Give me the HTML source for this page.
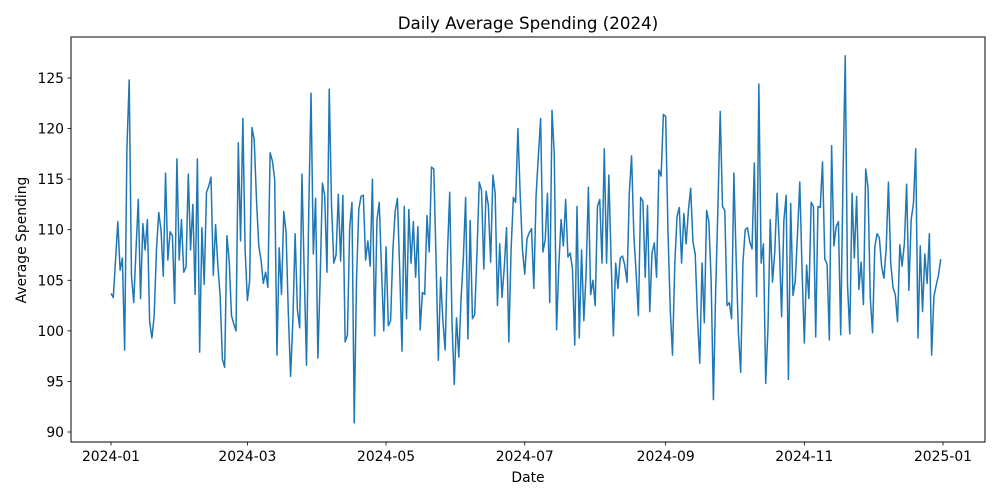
<!DOCTYPE html>
<html><head><meta charset="utf-8"><style>
html,body{margin:0;padding:0;background:#fff;}
svg{display:block;font-family:"DejaVu Sans","Liberation Sans",sans-serif;}
</style></head><body>
<svg id="chart" width="1000" height="500" viewBox="0 0 1000 500" xmlns="http://www.w3.org/2000/svg">
<rect width="1000" height="500" fill="#fff"/>
<text x="528" y="29" text-anchor="middle" font-size="16.7" fill="#000">Daily Average Spending (2024)</text>
<g id="plot"></g>
<rect x="71" y="37" width="914" height="405" fill="none" stroke="#000" stroke-width="1"/>
<text x="528" y="482" text-anchor="middle" font-size="13.9">Date</text>
<text transform="translate(26,240) rotate(-90)" text-anchor="middle" font-size="13.9">Average Spending</text>
</svg>
<script>
const spending = [
103.7,103.3,107,110.8,106,107.2,98.1,118,124.8,105.5,102.8,108,113,103.2,110.6,108,111,100.9,99.3,101.5,108,111.7,110,105.4,115.6,107,109.8,109.4,102.7,117,107,
111,105.8,106.3,115.5,108,112.5,103.6,117,97.9,110.2,104.6,113.7,114.3,115.2,105.5,110.5,106.5,103.5,97.2,96.4,109.4,106.9,101.5,100.7,100,118.6,108.9,121,108,
103,105,120.1,118.9,113,108.4,107,104.7,105.8,104.3,117.6,116.8,115,97.6,108.2,103.6,111.8,109.8,101.8,95.5,101,109.6,102.1,100.3,115.5,105.7,96.6,112,123.5,107.6,113.1,
97.3,105,114.6,113.4,105.8,123.9,112.5,106.7,107.5,113.5,106.9,113.4,98.9,99.6,110.2,112.7,90.9,105,112,113.3,113.4,107,108.9,106.4,115,99.5,111,112.7,106,100,
108.3,100.5,101,108,111.8,113.1,106,98,112.3,101.2,112,106.7,110.8,105.3,110.3,100.1,103.8,103.6,111.4,107.8,116.2,116,107,97.1,105.3,101,98.1,107.6,113.7,100.9,94.7,
101.3,97.4,103.2,107.2,113.2,99.2,110.9,101.2,101.6,107.7,114.7,113.9,106.1,113.8,112.4,106.8,115.4,113.6,102.5,108.6,103.3,106.3,110.2,98.9,108,113.2,112.7,120,113.5,108,
105.6,109.1,109.7,110.1,104.2,113.4,117.3,121,107.8,109,113.6,102.8,121.8,117.4,100.1,106.5,111,108.4,113,107.3,107.7,106.1,98.6,112.3,99.3,108,101,105.7,114.2,103.6,105,
102.5,112.3,113,106.7,118,106.7,115.4,107,99.5,106.7,104.2,107.2,107.4,106.5,104.8,113.6,117.3,109.5,105.7,101.5,113.2,112.8,105.3,112.4,101.9,107.7,108.7,105.3,115.9,115.3,121.4,
121.2,110,102.2,97.6,106.5,111.3,112.2,106.7,111.6,108.6,111.9,114.1,108.8,107.6,101.4,96.8,106.7,100.8,111.9,110.8,105,93.2,104,112.3,121.7,112.3,111.9,102.5,102.8,101.2,
115.6,107.2,99.8,95.9,106.8,110,110.2,108.8,108.1,116.6,103.4,124.4,106.7,108.6,94.8,100.2,111,104.8,107.8,113.6,108.5,101.4,110.9,113.4,95.2,112.6,103.5,104.9,109.6,114.7,106,
98.8,106.5,103.2,112.7,112.3,99.4,112.3,112.2,116.7,107.1,106.6,99.1,118.3,108.4,110.3,110.8,99.6,115,127.2,104.5,99.7,113.6,107.2,113.3,104.1,106.8,102.6,116,114.2,103.3,99.8,
108.3,109.6,109.2,106.4,105.2,108.1,114.7,106.7,104.3,103.6,100.9,108.5,106.4,108.6,114.5,104,111,112.6,118,99.3,108.4,101.9,107.6,104.7,109.6,97.6,103.4,104.5,105.5,107.1
];
const xTickLabels = ["2024-01","2024-03","2024-05","2024-07","2024-09","2024-11","2025-01"];
const xTickDays = [0,60,121,182,244,305,366];
const yTicks = [90,95,100,105,110,115,120,125];

const NS="http://www.w3.org/2000/svg";
const g=document.getElementById('plot');
const xScale=d=>111+d*(832/366);
const yScale=v=>432-(v-90)*(354/35);
function mk(tag,attrs){const e=document.createElementNS(NS,tag);for(const k in attrs)e.setAttribute(k,attrs[k]);g.appendChild(e);return e;}

xTickDays.forEach((d,i)=>{
  const x=xScale(d);
  const t=mk('line',{x1:x,x2:x,y1:442,y2:445.5,stroke:'#000','stroke-width':0.8});
  
  
  const l=mk('text',{x:x,y:461,'text-anchor':'middle','font-size':13.9});
  l.textContent=xTickLabels[i];
  
  
});
yTicks.forEach(v=>{
  const y=yScale(v);
  const t=mk('line',{x1:67.5,x2:71,y1:y,y2:y,stroke:'#000','stroke-width':0.8});
  
  
  const l=mk('text',{x:64,y:y+5,'text-anchor':'end','font-size':13.9});
  l.textContent=v;
  
  
});
const pts=spending.map((v,i)=>xScale(i).toFixed(2)+','+yScale(v).toFixed(2)).join(' ');
const line=mk('polyline',{points:pts,fill:'none',stroke:'#1f77b4','stroke-width':1.5,'stroke-linejoin':'round'});


</script>
</body></html>
